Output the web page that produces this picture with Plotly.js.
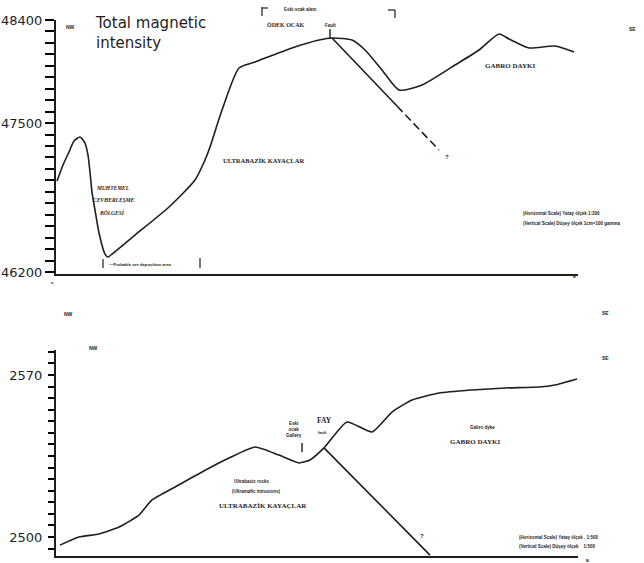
<!DOCTYPE html>
<html>
<head>
<meta charset="utf-8">
<script src="https://cdn.plot.ly/plotly-3.0.1.min.js"></script>
<style>html,body{margin:0;padding:0;background:#fff;}#chart{width:644px;height:563px;}</style>
</head>
<body>
<div id="chart"></div>
<script>
// ---- Data (distance along profile, arbitrary units) ----
// Top panel: total magnetic intensity (gamma)
const magDistance = [0,6,12,17,23,28,31,33,35,38,42,48,51,55,78,112,138,148,153,165,182,198,235,262,275,295,308,325,342,365,398,422,442,452,472,498,517];
const magValue    = [46994,47134,47248,47344,47379,47326,47221,47073,46898,46741,46541,46357,46331,46357,46523,46768,47003,47178,47291,47614,47981,48033,48156,48225,48243,48225,48138,47964,47789,47833,48007,48138,48278,48234,48156,48173,48121];
// Fault projection in the top panel (solid part, then inferred dashed part)
const magFaultSolidDist = [275, 340];
const magFaultSolidVal  = [48243, 47649];
const magFaultDashDist  = [340, 382];
const magFaultDashVal   = [47649, 47265];

// Bottom panel: topographic elevation (m)
const topoDistance = [3,22,42,62,82,95,118,145,172,198,222,242,253,267,290,315,335,355,382,415,448,482,498,520];
const topoElev     = [2496.5,2500.0,2501.3,2504.3,2509.5,2516.0,2521.6,2528.1,2534.1,2538.9,2535.4,2532.0,2533.3,2538.5,2549.7,2545.4,2554.0,2559.2,2562.2,2563.5,2564.4,2564.8,2565.7,2568.3];
const topoFaultDist = [267, 373];
const topoFaultElev = [2538.5, 2492.2];

// Axis tick labels
const magTickLabels  = ["46200", "47500", "48400"];
const topoTickLabels = ["2500", "2570"];

// ---- Layout helpers ----
const W = 644, H = 563;
const ML = 56, MR = 66;                 // plot area: x pixels 56 .. 578
const PW = W - ML - MR;
const fx = p => (p - ML) / PW;          // pixel -> paper x (paper spans the plot area)
const fy = p => 1 - p / H;              // top/bottom margins are 0
const INK = '#1e1e1e';
const CLEAR = 'rgba(0,0,0,0)';

// tick positions every 100 gamma / every 5 m, labelled only at the printed values
const magTickVals = [], magTickText = [];
for (let v = 46200; v <= 48400; v += 100) { magTickVals.push(v); magTickText.push(magTickLabels.includes(String(v)) ? String(v) : ' '); }
const topoTickVals = [], topoTickText = [];
for (let v = 2495; v <= 2580; v += 5) { topoTickVals.push(v); topoTickText.push(topoTickLabels.includes(String(v)) ? String(v) : ' '); }

const lineStyle = {color: INK, width: 1.6};
const traces = [
  {x: magDistance, y: magValue, xaxis: 'x', yaxis: 'y', mode: 'lines', line: Object.assign({shape: 'spline', smoothing: 0.6}, lineStyle), hoverinfo: 'skip'},
  {x: magFaultSolidDist, y: magFaultSolidVal, xaxis: 'x', yaxis: 'y', mode: 'lines', line: lineStyle, hoverinfo: 'skip'},
  {x: magFaultDashDist, y: magFaultDashVal, xaxis: 'x', yaxis: 'y', mode: 'lines', line: Object.assign({dash: '8px,4px'}, lineStyle), hoverinfo: 'skip'},
  {x: topoDistance, y: topoElev, xaxis: 'x2', yaxis: 'y2', mode: 'lines', line: Object.assign({shape: 'spline', smoothing: 0.5}, lineStyle), hoverinfo: 'skip'},
  {x: topoFaultDist, y: topoFaultElev, xaxis: 'x2', yaxis: 'y2', mode: 'lines', line: lineStyle, hoverinfo: 'skip'}
];

function T(text, x, y, size, o) {
  o = o || {};
  return Object.assign({
    text: text, x: fx(x), y: fy(y), xref: 'paper', yref: 'paper',
    showarrow: false, xanchor: 'center', yanchor: 'middle',
    font: {family: o.family || 'DejaVu Serif', size: size, color: INK}
  }, o.extra || {});
}
const SERIF = 'Liberation Serif', SANS = 'Liberation Sans';
const annotations = [
  T('Total magnetic<br>intensity', 93, 33, 15, {family: 'DejaVu Sans', extra: {xanchor: 'left', align: 'left'}}),
  T('<b>NW</b>', 70, 27, 5, {family: SANS}),
  T('<b>SE</b>', 632, 29, 5, {family: SANS}),
  T('<b>Eski ocak alanı</b>', 300, 9, 4.5, {family: SANS}),
  T('<b>ÖDEK OCAK</b>', 286, 25, 6, {family: SERIF}),
  T('<b>Fault</b>', 330, 25, 4.5, {family: SANS}),
  T('<b>GABRO DAYKI</b>', 510, 66, 7, {family: SERIF}),
  T('<b>ULTRABAZİK KAYAÇLAR</b>', 263, 160, 6.5, {family: SERIF}),
  T('<b><i>MUHTEMEL</i></b>', 113, 188, 5.5, {family: SERIF}),
  T('<b><i>CEVHERLEŞME</i></b>', 114, 200, 5.5, {family: SERIF}),
  T('<b><i>BÖLGESİ</i></b>', 112, 212, 5.5, {family: SERIF}),
  T('<b>—Probable ore deposition area</b>', 140, 264, 4.2, {family: SANS}),
  T('<b>?</b>', 447, 157, 6, {family: SANS}),
  T('<b>(Horizontal Scale) Yatay ölçek 1:200</b>', 521, 213, 4.5, {family: SANS, extra: {xanchor: 'left'}}),
  T('<b>(Vertical Scale) Düşey ölçek 1cm=100 gamma</b>', 521, 223, 4.5, {family: SANS, extra: {xanchor: 'left'}}),
  T('<b>o</b>', 52, 283, 4, {family: SANS}),
  T('<b>B</b>', 574, 277, 4, {family: SANS}),
  // bottom panel
  T('<b>NW</b>', 68, 314, 5, {family: SANS}),
  T('<b>NW</b>', 93, 348, 5, {family: SANS}),
  T('<b>SE</b>', 605, 313, 5, {family: SANS}),
  T('<b>SE</b>', 605, 358, 5, {family: SANS}),
  T('<b>Eski<br>ocak<br>Gallery</b>', 294, 429, 4.5, {family: SANS}),
  T('<b>FAY</b>', 324, 420, 7.5, {family: SERIF}),
  T('<b>fault</b>', 322, 432, 4, {family: SANS}),
  T('<b>Gabro dyke</b>', 482, 427, 4.5, {family: SANS}),
  T('<b>GABRO DAYKI</b>', 475, 442, 7, {family: SERIF}),
  T('<b>Ultrabasic rocks</b>', 252, 481, 4.5, {family: SANS}),
  T('<b>(Ultramafic intrusions)</b>', 256, 491, 4.5, {family: SANS}),
  T('<b>ULTRABAZİK KAYAÇLAR</b>', 263, 506, 7, {family: SERIF}),
  T('<b>?</b>', 422, 536, 6, {family: SANS}),
  T('<b>(Horizontal Scale) Yatay ölçek , 1:500</b>', 517, 537, 4.5, {family: SANS, extra: {xanchor: 'left'}}),
  T('<b>(Vertical Scale) Düşey ölçek    1:500</b>', 517, 546, 4.5, {family: SANS, extra: {xanchor: 'left'}}),
  T('<b>B</b>', 587, 560, 4, {family: SANS})
];

function L(x0, y0, x1, y1, w) {
  return {type: 'line', xref: 'paper', yref: 'paper', x0: fx(x0), y0: fy(y0), x1: fx(x1), y1: fy(y1), line: {color: INK, width: w || 1.2}};
}
const shapes = [
  // old gallery bracket (top)
  L(262, 7, 262, 16), L(262, 8, 268, 8),
  L(388, 10, 395, 10), L(395, 10, 395, 18),
  // fault tick (top)
  L(330, 29, 330, 38, 1.4),
  // probable ore bracket
  L(103, 259, 103, 268), L(200, 258, 200, 268),
  // gallery arrow (bottom)
  L(302, 443, 302, 452, 1.4)
];

const layout = {
  width: W, height: H,
  margin: {l: ML, r: MR, t: 0, b: 0, pad: 0},
  paper_bgcolor: '#fff', plot_bgcolor: '#fff',
  showlegend: false,
  xaxis: {domain: [0, 1], range: [-1, 521], anchor: 'y', showline: true, linecolor: INK, linewidth: 2,
    gridcolor: CLEAR, zerolinecolor: CLEAR, showticklabels: false},
  yaxis: {domain: [fy(274), fy(20)], range: [46183, 48400], anchor: 'x', showline: true, linecolor: INK, linewidth: 2,
    gridcolor: CLEAR, zerolinecolor: CLEAR,
    tickmode: 'array', tickvals: magTickVals, ticktext: magTickText,
    ticks: 'outside', ticklen: 9, tickwidth: 2, tickcolor: '#000',
    tickfont: {family: 'DejaVu Sans', size: 13, color: INK}},
  xaxis2: {domain: [0, 1], range: [-1, 521], anchor: 'y2', showline: true, linecolor: INK, linewidth: 2,
    gridcolor: CLEAR, zerolinecolor: CLEAR, showticklabels: false},
  yaxis2: {domain: [fy(556), fy(350)], range: [2491.8, 2580.8], anchor: 'x2', showline: true, linecolor: INK, linewidth: 2,
    gridcolor: CLEAR, zerolinecolor: CLEAR,
    tickmode: 'array', tickvals: topoTickVals, ticktext: topoTickText,
    ticks: 'outside', ticklen: 6, tickwidth: 2, tickcolor: '#000',
    tickfont: {family: 'DejaVu Sans', size: 13, color: INK}, ticklabelstandoff: 3},
  annotations: annotations,
  shapes: shapes
};

Plotly.newPlot('chart', traces, layout, {displayModeBar: false, staticPlot: true});
</script>
</body>
</html>
